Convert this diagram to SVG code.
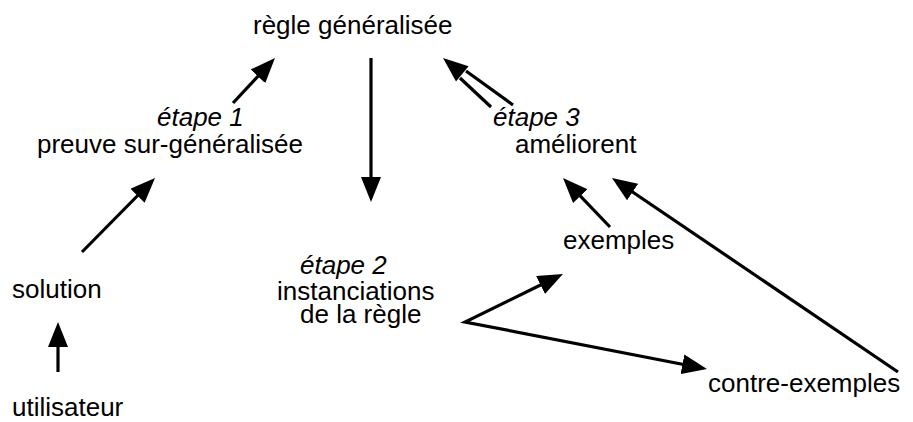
<svg xmlns="http://www.w3.org/2000/svg" width="913" height="422" viewBox="0 0 913 422">
<style>
text{font-family:"Liberation Sans",Arial,sans-serif;font-size:26px;fill:#000}
.it{font-style:italic}
.ln{stroke:#000;stroke-width:3.2;fill:none}
</style>
<defs>
<marker id="ah" markerUnits="userSpaceOnUse" markerWidth="26" markerHeight="20" viewBox="0 0 26 20" refX="13" refY="10" orient="auto-start-reverse">
<path d="M0,0 L25,10 L0,20 z" fill="#000"/>
</marker>
</defs>
<rect width="913" height="422" fill="#fff"/>
<g id="connectors">
<line class="ln" x1="82" y1="252" x2="146.6" y2="186.5" marker-end="url(#ah)"/>
<line class="ln" x1="233" y1="103" x2="266.8" y2="66.8" marker-end="url(#ah)"/>
<line class="ln" x1="371" y1="58" x2="371" y2="190" marker-end="url(#ah)"/>
<line class="ln" x1="491" y1="107" x2="460" y2="78"/>
<line class="ln" x1="513" y1="105" x2="466" y2="71"/>
<polygon points="443,58 468.6,66.2 456,81.6" fill="#000"/>
<line class="ln" x1="610" y1="227" x2="571.3" y2="186.7" marker-end="url(#ah)"/>
<line class="ln" x1="898" y1="372" x2="621.9" y2="184.7" marker-end="url(#ah)"/>
<path class="ln" d="M552.2,279.3 L465,322 L695.2,366.7" marker-start="url(#ah)" marker-end="url(#ah)"/>
<line class="ln" x1="58" y1="372" x2="58" y2="334" marker-end="url(#ah)"/>
</g>
<g id="regle"><text x="253" y="34">règle généralisée</text></g>
<g id="preuve"><text class="it" x="157" y="126">étape 1</text><text x="37" y="153">preuve sur-généralisée</text></g>
<g id="ameliorent"><text class="it" x="493" y="126">étape 3</text><text x="515" y="153">améliorent</text></g>
<g id="exemples"><text x="563" y="249">exemples</text></g>
<g id="instanciations"><text class="it" x="300" y="274" font-size="25">étape 2</text><text x="277" y="300">instanciations</text><text x="300" y="323">de la règle</text></g>
<g id="solution"><text x="12" y="298">solution</text></g>
<g id="contre-exemples"><text x="708" y="392">contre-exemples</text></g>
<g id="utilisateur"><text x="12" y="416">utilisateur</text></g>
</svg>
